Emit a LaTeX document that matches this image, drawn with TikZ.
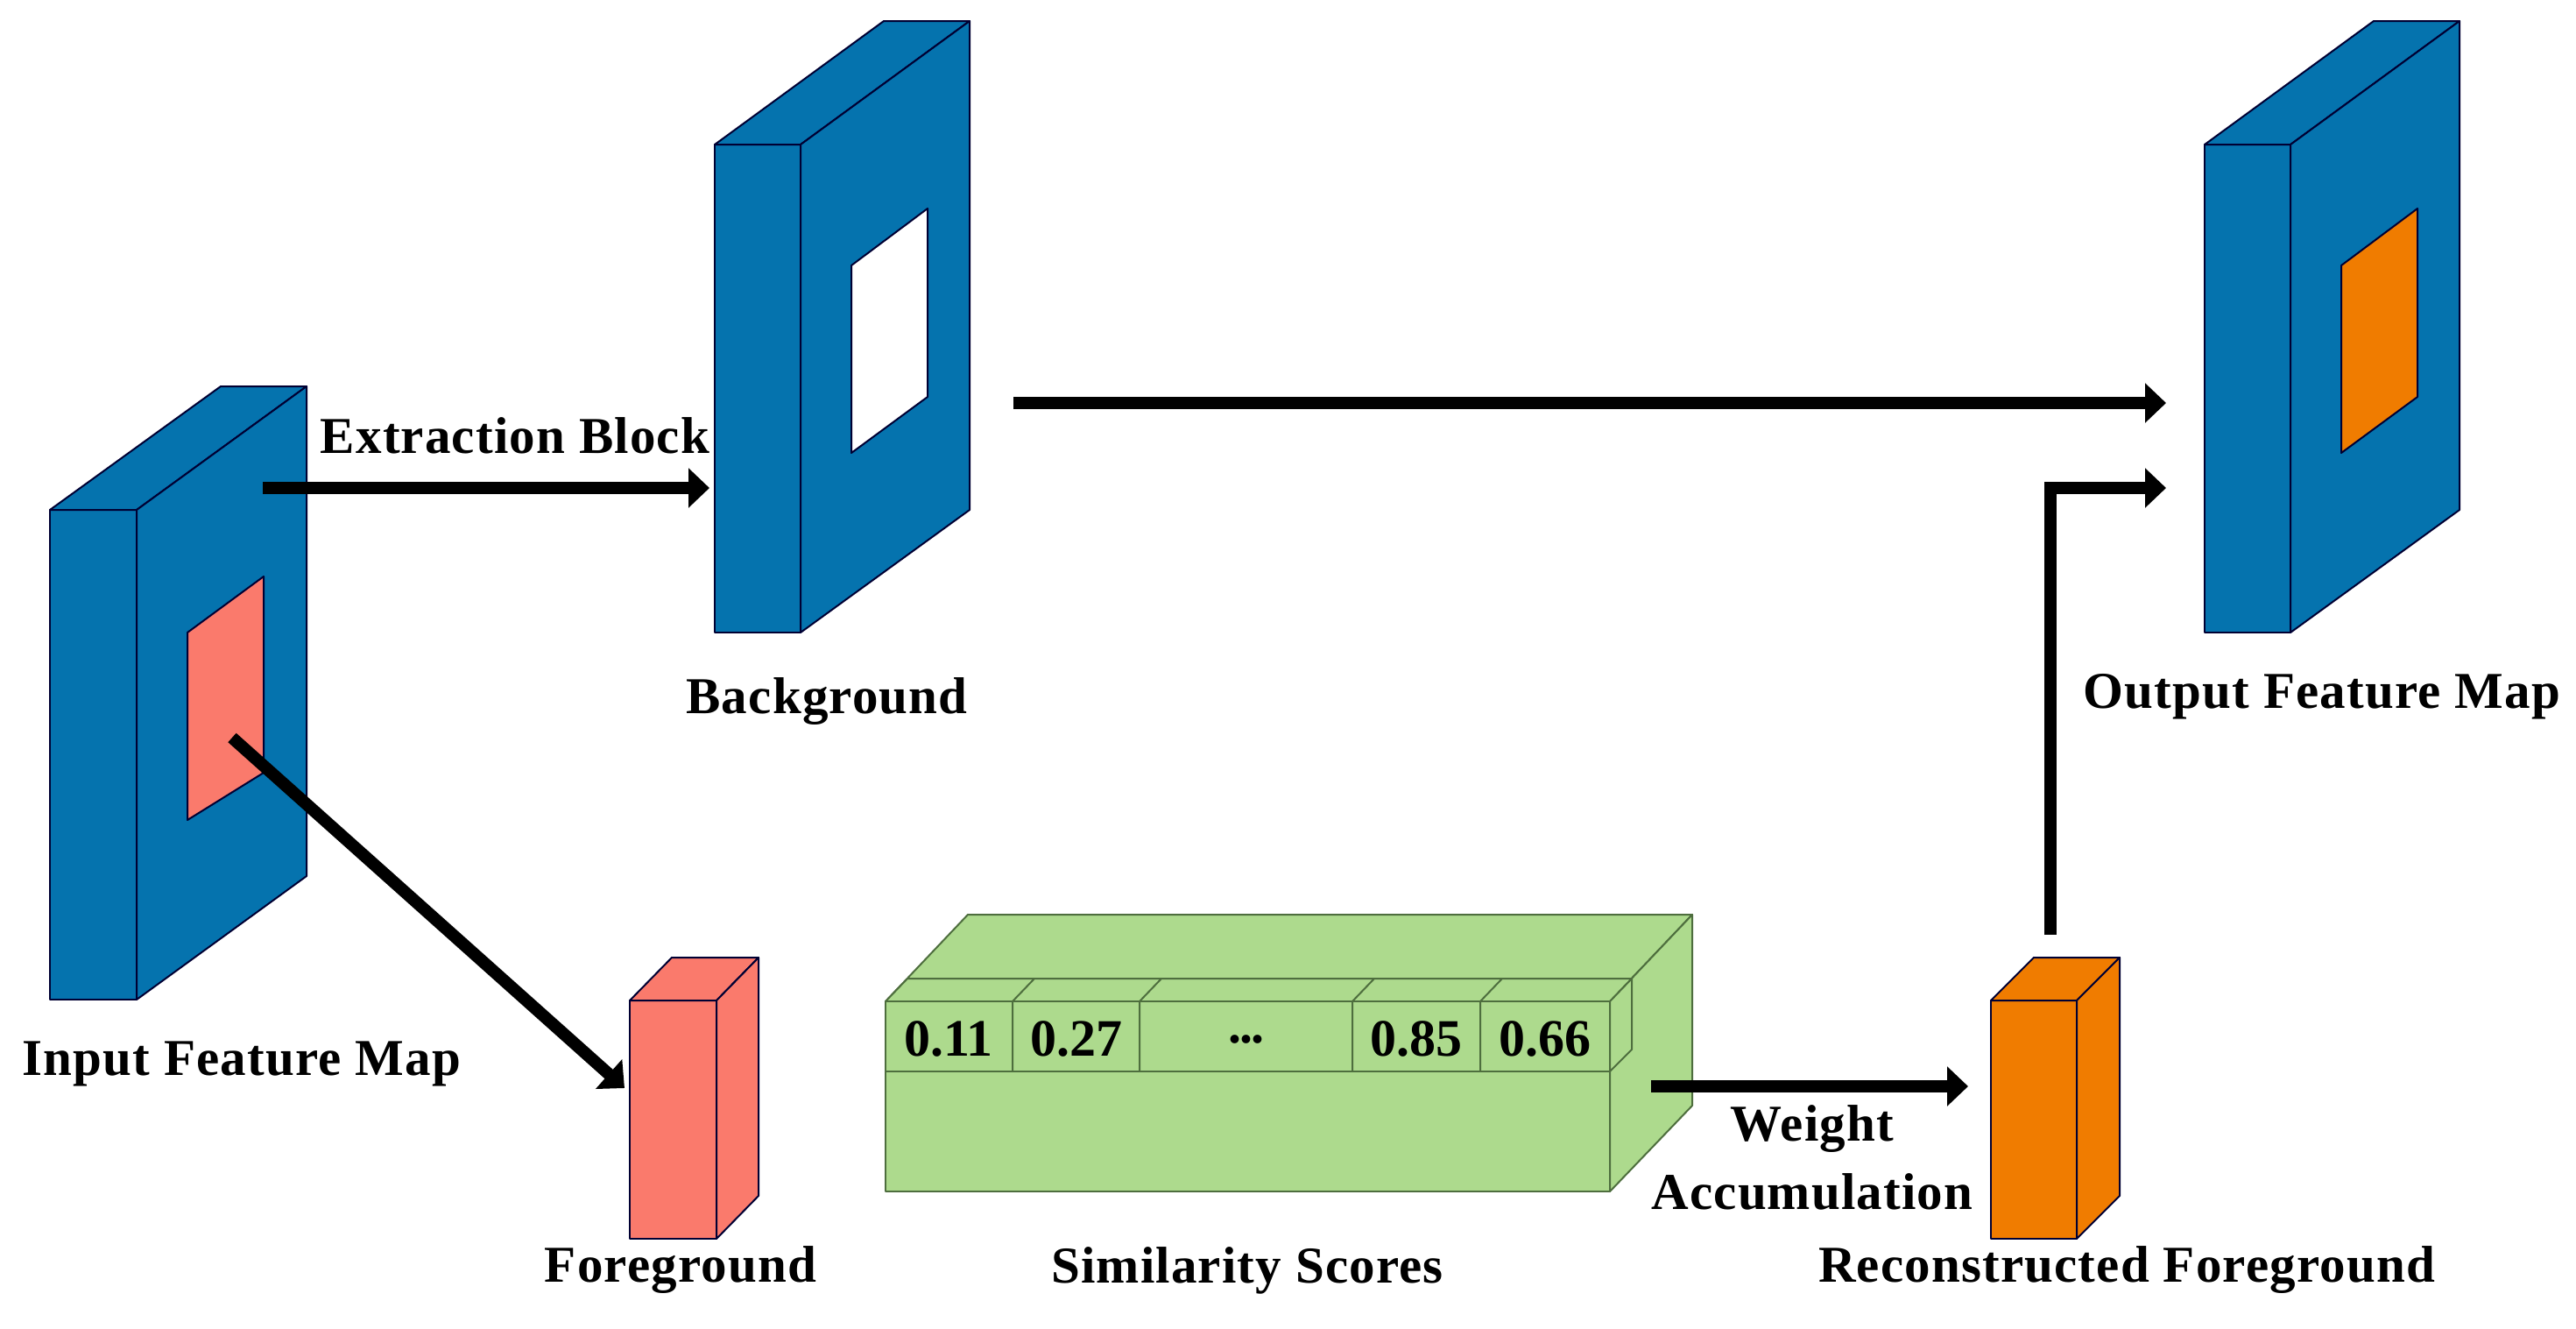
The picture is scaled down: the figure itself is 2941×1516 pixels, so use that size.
\documentclass[tikz,border=0pt]{standalone}
\usepackage{fontspec}
\setmainfont{Liberation Serif}
\usetikzlibrary{arrows.meta}
\definecolor{slab}{HTML}{0573AE}
\definecolor{salmon}{HTML}{FA7A6C}
\definecolor{orng}{HTML}{F07C00}
\definecolor{grn}{HTML}{ADDA8D}
\definecolor{grnl}{HTML}{4E6E3E}
\begin{document}
\begin{tikzpicture}[x=1pt,y=-1pt,
  face/.style={draw=black!80!blue,line width=2pt,line join=round},
  gface/.style={fill=grn,draw=grnl,line width=2pt,line join=round},
  arr/.style={line width=14pt,-{Triangle[length=24pt,width=44pt]}},
  lab/.style={font=\fontsize{59}{60}\selectfont\bfseries\addfontfeatures{LetterSpace=2},inner sep=0pt},
  num/.style={font=\fontsize{60}{62}\selectfont\bfseries,inner sep=0pt}]
\useasboundingbox (0,0) rectangle (2941,1516);
% input slab
\filldraw[face,fill=slab] (57,582) rectangle (156,1141);
\filldraw[face,fill=slab] (57,582) -- (252,441) -- (350,441) -- (156,582) -- cycle;
\filldraw[face,fill=slab] (156,582) -- (350,441) -- (350,1000) -- (156,1141) -- cycle;
\filldraw[face,fill=salmon] (214,722) -- (301,658) -- (301,882) -- (214,936) -- cycle;
% background slab
\filldraw[face,fill=slab] (816,165) rectangle (914,722);
\filldraw[face,fill=slab] (816,165) -- (1009,24) -- (1107,24) -- (914,165) -- cycle;
\filldraw[face,fill=slab] (914,165) -- (1107,24) -- (1107,582) -- (914,722) -- cycle;
\filldraw[face,fill=white] (972,303) -- (1059,238) -- (1059,453) -- (972,517) -- cycle;
% output slab
\filldraw[face,fill=slab] (2517,165) rectangle (2615,722);
\filldraw[face,fill=slab] (2517,165) -- (2710,24) -- (2808,24) -- (2615,165) -- cycle;
\filldraw[face,fill=slab] (2615,165) -- (2808,24) -- (2808,582) -- (2615,722) -- cycle;
\filldraw[face,fill=orng] (2673,303) -- (2760,238) -- (2760,453) -- (2673,517) -- cycle;
% foreground box
\filldraw[face,fill=salmon] (719,1142) rectangle (818,1414);
\filldraw[face,fill=salmon] (719,1142) -- (767,1093) -- (866,1093) -- (818,1142) -- cycle;
\filldraw[face,fill=salmon] (818,1142) -- (866,1093) -- (866,1365) -- (818,1414) -- cycle;
% reconstructed box
\filldraw[face,fill=orng] (2273,1142) rectangle (2371,1414);
\filldraw[face,fill=orng] (2273,1142) -- (2322,1093) -- (2420,1093) -- (2371,1142) -- cycle;
\filldraw[face,fill=orng] (2371,1142) -- (2420,1093) -- (2420,1365) -- (2371,1414) -- cycle;
% similarity box
\filldraw[gface] (1011,1143) rectangle (1838,1360);
\filldraw[gface] (1011,1143) -- (1105,1044) -- (1932,1044) -- (1838,1143) -- cycle;
\filldraw[gface] (1838,1143) -- (1932,1044) -- (1932,1262) -- (1838,1360) -- cycle;
\filldraw[gface] (1011,1143) -- (1036,1117) -- (1863,1117) -- (1838,1143) -- cycle;
\filldraw[gface] (1838,1143) -- (1863,1117) -- (1863,1198) -- (1838,1223) -- cycle;
\filldraw[gface] (1011,1143) rectangle (1838,1223);
\foreach \x in {1156,1301,1544,1690}{
  \draw[grnl,line width=2pt] (\x,1223) -- (\x,1143) -- (\x+25,1117);}
\node[num] (c1) at (1083,1186) {0.11};
\node[num] (c2) at (1229,1186) {0.27};
\node[num] (c3) at (1423,1186) {\addfontfeatures{LetterSpace=-3}...};
\node[num] (c4) at (1617,1186) {0.85};
\node[num] (c5) at (1764,1186) {0.66};
% labels
\node[lab] (eb) at (588,497) {Extraction Block};
\node[lab] (bg) at (944,801) {Background};
\node[lab] (ofm) at (2651,795) {Output Feature Map};
\node[lab] (ifm) at (276,1214) {Input Feature Map};
\node[lab] (fg) at (777,1450) {Foreground};
\node[lab] (ss) at (1424,1450) {Similarity Scores};
\node[lab] (rf) at (2428,1450) {Reconstructed Foreground};
\node[lab] (w1) at (2069,1289) {Weight};
\node[lab] (w2) at (2069,1360) {Accumulation};
% connector coordinates
\coordinate (a1) at (300,557); \coordinate (a2) at (810,557);
\coordinate (b1) at (1157,460); \coordinate (b2) at (2473,460);
\coordinate (d1) at (265,842); \coordinate (d2) at (713,1242);
\coordinate (g1) at (1885,1240); \coordinate (g2) at (2247,1240);
\coordinate (r1) at (2341,1067); \coordinate (r2) at (2473,557);
\draw[arr] (a1) -- (a2);
\draw[arr] (b1) -- (b2);
\draw[arr] (d1) -- (d2);
\draw[arr] (g1) -- (g2);
\draw[arr,line join=miter] (r1) |- (r2);
\end{tikzpicture}
\end{document}
